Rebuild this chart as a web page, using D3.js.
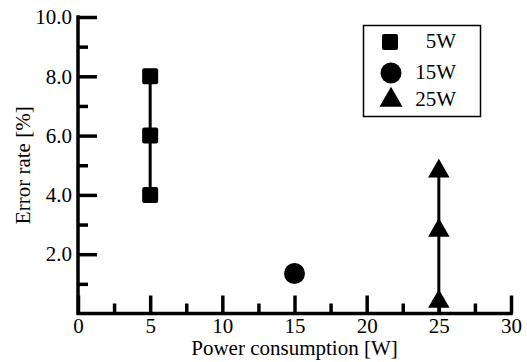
<!DOCTYPE html>
<html>
<head>
<meta charset="utf-8">
<script src="https://cdn.jsdelivr.net/npm/d3@7"></script>
<style>
  body { margin: 0; background: #fff; }
</style>
</head>
<body>
<svg id="chart" width="527" height="362"></svg>
<script>
// data
const powerLevels = [5, 15, 25];
const legendLabels = ["5W", "15W", "25W"];
const errors5W = [4.0, 6.0, 8.0];
const errors15W = [1.35];
const errors25W = [0.4, 2.8, 4.8];

const xMajorTicks = [0, 5, 10, 15, 20, 25, 30];
const xMinorTicks = [2.5, 7.5, 12.5, 17.5, 22.5, 27.5];
const yMajorTicks = [2, 4, 6, 8, 10];
const yMinorTicks = [1, 3, 5, 7, 9];

const fontFam = '"Liberation Serif"';
const fontSize = 21;

const svg = d3.select("#chart")
    .attr("font-family", fontFam)
    .attr("font-size", fontSize);

const x = d3.scaleLinear().domain([0, 30]).range([78, 511]);
const y = d3.scaleLinear().domain([0, 10]).range([313.5, 17]);

const strokeW = 3.5;

// y axis, major ticks with labels
const yMajor = svg.append("g")
    .attr("transform", `translate(${x(0)},0)`)
    .call(d3.axisLeft(y).tickValues(yMajorTicks).tickSize(-19).tickSizeOuter(0)
        .tickPadding(6).tickFormat(d3.format(".1f")));
yMajor.select(".domain").remove();

// minor ticks
const yMinor = svg.append("g")
    .attr("transform", `translate(${x(0)},0)`)
    .call(d3.axisLeft(y).tickValues(yMinorTicks).tickSize(-10).tickFormat(""));
yMinor.select(".domain").remove();

const xMajor = svg.append("g")
    .attr("transform", `translate(0,${y(0)})`)
    .call(d3.axisBottom(x).tickValues(xMajorTicks).tickSize(-18).tickSizeOuter(0)
        .tickPadding(5).tickFormat(d3.format("d")));
xMajor.select(".domain").remove();

const xMinor = svg.append("g")
    .attr("transform", `translate(0,${y(0)})`)
    .call(d3.axisBottom(x).tickValues(xMinorTicks).tickSize(-10).tickFormat(""));
xMinor.select(".domain").remove();

// d3 axes put sans-serif on the groups, switch back
svg.selectAll("g").attr("font-family", fontFam).attr("font-size", fontSize);
svg.selectAll(".tick line").attr("stroke", "#000").attr("stroke-width", strokeW);
svg.selectAll(".tick text").attr("fill", "#000");

// axis lines
svg.append("path")
    .attr("d", `M${x(0)},${y(10)}V${y(0)}H${x(30)}`)
    .attr("fill", "none")
    .attr("stroke", "#000")
    .attr("stroke-width", strokeW)
    .attr("stroke-linecap", "square");

// axis titles
svg.append("text")
    .attr("x", x(15))
    .attr("y", 355)
    .attr("text-anchor", "middle")
    .text("Power consumption [W]");

svg.append("text")
    .attr("transform", `translate(30,${y(5)}) rotate(-90)`)
    .attr("text-anchor", "middle")
    .text("Error rate [%]");

// vertical range lines
const rangeLines = [
    { p: powerLevels[0], lo: d3.min(errors5W), hi: d3.max(errors5W) },
    { p: powerLevels[2], lo: 0, hi: d3.max(errors25W) }
];
svg.selectAll(".range")
    .data(rangeLines)
    .enter()
    .append("line")
    .attr("x1", d => x(d.p))
    .attr("x2", d => x(d.p))
    .attr("y1", d => y(d.lo))
    .attr("y2", d => y(d.hi))
    .attr("stroke", "#000")
    .attr("stroke-width", 3);

// squares, 5W
svg.selectAll(".sq")
    .data(errors5W)
    .enter()
    .append("rect")
    .attr("x", x(powerLevels[0]) - 8)
    .attr("y", d => y(d) - 8)
    .attr("width", 16)
    .attr("height", 16)
    .attr("rx", 2)
    .attr("fill", "#000");

// circle, 15W
svg.selectAll(".ci")
    .data(errors15W)
    .enter()
    .append("circle")
    .attr("cx", x(powerLevels[1]))
    .attr("cy", d => y(d))
    .attr("r", 10.5)
    .attr("fill", "#000");

// triangles, 25W
const tri = d3.symbol().type(d3.symbolTriangle).size(200);
svg.selectAll(".tr")
    .data(errors25W)
    .enter()
    .append("path")
    .attr("d", tri)
    .attr("transform", d => `translate(${x(powerLevels[2])},${y(d)})`)
    .attr("fill", "#000");

// legend
const legend = svg.append("g");
legend.append("rect")
    .attr("x", 363.5).attr("y", 25.5)
    .attr("width", 117).attr("height", 91)
    .attr("fill", "#fff")
    .attr("stroke", "#000")
    .attr("stroke-width", 1.5);

const legendY = [42, 73, 100];
legend.append("rect")
    .attr("x", 390 - 8).attr("y", legendY[0] - 8)
    .attr("width", 16).attr("height", 16).attr("rx", 2)
    .attr("fill", "#000");
legend.append("circle")
    .attr("cx", 391).attr("cy", legendY[1]).attr("r", 10.5)
    .attr("fill", "#000");
legend.append("path")
    .attr("d", d3.symbol().type(d3.symbolTriangle).size(230))
    .attr("transform", `translate(391,${legendY[2]})`)
    .attr("fill", "#000");

legend.selectAll(".lt")
    .data(legendLabels)
    .enter()
    .append("text")
    .attr("x", 456)
    .attr("y", (d, i) => legendY[i] + 6)
    .attr("text-anchor", "end")
    .text(d => d);
</script>
</body>
</html>
